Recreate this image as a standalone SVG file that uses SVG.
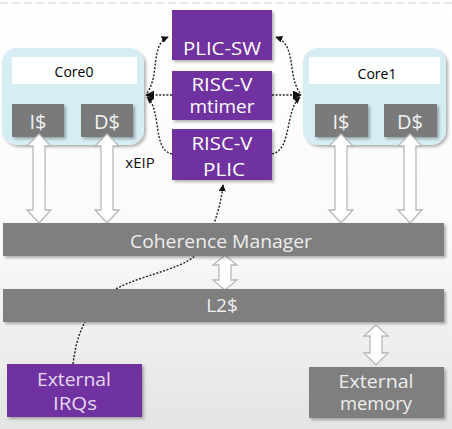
<svg xmlns="http://www.w3.org/2000/svg" width="452" height="429" viewBox="0 0 452 429">
<defs>
<linearGradient id="bg" x1="0" y1="0" x2="0" y2="1">
<stop offset="0" stop-color="#ffffff"/>
<stop offset="0.55" stop-color="#fafafa"/>
<stop offset="1" stop-color="#e4e4e4"/>
</linearGradient>
<filter id="sh" x="-10%" y="-10%" width="130%" height="140%">
<feDropShadow dx="2" dy="2" stdDeviation="1.5" flood-color="#000" flood-opacity="0.3"/>
</filter>
<marker id="ah" viewBox="0 0 10 10" refX="9" refY="5" markerWidth="7" markerHeight="7" orient="auto-start-reverse" markerUnits="userSpaceOnUse">
<path d="M0,0 L10,5 L0,10 z" fill="#111"/>
</marker>
<marker id="ahb" viewBox="0 0 10 10" refX="9" refY="5" markerWidth="9" markerHeight="9" orient="auto" markerUnits="userSpaceOnUse">
<path d="M0,0 L10,5 L0,10 z" fill="#111"/>
</marker>
</defs>
<style>
.core{fill:#d6edf4;}
.lbl{fill:#ffffff;}
.cache{fill:#7a7a7a;}
.bar{fill:#7f7f7f;}
.pur{fill:#7030a0;}
.t{font-family:"Open Sans","Noto Sans","DejaVu Sans",sans-serif;text-anchor:middle;}
.tw{fill:#f2f2f2;font-size:20px;}
.tp{fill:#ffffff;font-size:19px;}
.tk{fill:#000;font-size:14px;}
.tb{fill:#eeeeee;font-size:19px;}
.dot{fill:none;stroke:#222;stroke-width:1.4;stroke-dasharray:2 1.6;}
.harr{fill:#ffffff;stroke:#b8b8b8;stroke-width:1.3;}
</style>
<rect x="0" y="0" width="452" height="429" fill="url(#bg)"/>
<line x1="0" y1="3" x2="452" y2="3" stroke="#d0d0d0" stroke-width="1" stroke-dasharray="8 4"/>

<g id="connectors">
<path class="dot" d="M73,364 C76,340 82,318 105,296 C130,276 178,272 196,255 C210,240 220,212 223,185" marker-end="url(#ah)"/>
<path class="dot" d="M147,93 C160,75 150,45 168,37" marker-end="url(#ah)"/>
<path class="dot" d="M172,95 L146,95" marker-end="url(#ahb)"/>
<path class="dot" d="M172,154 C152,150 162,110 147,97" marker-end="url(#ah)"/>
<path class="dot" d="M300,93 C287,75 297,45 276,37" marker-end="url(#ah)"/>
<path class="dot" d="M272,95 L301,95" marker-end="url(#ahb)"/>
<path class="dot" d="M272,154 C292,150 285,110 300,97" marker-end="url(#ah)"/>
</g>

<g id="core0">
<rect class="core" x="2" y="48" width="142" height="97" rx="15" filter="url(#sh)"/>
<rect class="lbl" x="12" y="57" width="125" height="27"/>
<text class="t tk" x="74" y="77">Core0</text>
</g>
<g id="core0-i">
<rect class="cache" x="12" y="104" width="52" height="33" filter="url(#sh)"/>
<text class="t tw" x="38" y="129">I$</text>
</g>
<g id="core0-d">
<rect class="cache" x="81" y="104" width="52" height="33" filter="url(#sh)"/>
<text class="t tw" x="107" y="129">D$</text>
</g>

<g id="core1">
<rect class="core" x="303" y="48" width="143" height="97" rx="15" filter="url(#sh)"/>
<rect class="lbl" x="309" y="57" width="131" height="27"/>
<text class="t tk" x="377" y="79">Core1</text>
</g>
<g id="core1-i">
<rect class="cache" x="315" y="104" width="53" height="33" filter="url(#sh)"/>
<text class="t tw" x="341" y="129">I$</text>
</g>
<g id="core1-d">
<rect class="cache" x="384" y="104" width="53" height="33" filter="url(#sh)"/>
<text class="t tw" x="410" y="129">D$</text>
</g>

<g id="bus-arrows">
<path class="harr" d="M39,134 L51,146 L45,146 L45,210 L51,210 L39,223 L27,210 L33,210 L33,146 L27,146 Z"/>
<path class="harr" d="M107,134 L119,146 L113,146 L113,210 L119,210 L107,223 L95,210 L101,210 L101,146 L95,146 Z"/>
<path class="harr" d="M341,134 L353,146 L347,146 L347,210 L353,210 L341,223 L329,210 L335,210 L335,146 L329,146 Z"/>
<path class="harr" d="M410,134 L422,146 L416,146 L416,210 L422,210 L410,223 L398,210 L404,210 L404,146 L398,146 Z"/>
<path class="harr" d="M225,255 L237,265 L231,265 L231,280 L237,280 L225,290 L213,280 L219,280 L219,265 L213,265 Z"/>
<path class="harr" d="M376,325 L388,336 L382,336 L382,353 L388,353 L376,365 L364,353 L370,353 L370,336 L364,336 Z"/>
</g>

<g id="plic-sw">
<rect class="pur" x="172" y="10" width="100" height="50" filter="url(#sh)"/>
<text class="t tp" x="222" y="55" textLength="78" lengthAdjust="spacingAndGlyphs">PLIC-SW</text>
</g>
<g id="mtimer">
<rect class="pur" x="172" y="71" width="100" height="49" filter="url(#sh)"/>
<text class="t tp" x="222" y="91" textLength="61" lengthAdjust="spacingAndGlyphs">RISC-V</text>
<text class="t tp" x="222" y="113" textLength="65" lengthAdjust="spacingAndGlyphs">mtimer</text>
</g>
<g id="plic">
<rect class="pur" x="172" y="129" width="100" height="51" filter="url(#sh)"/>
<text class="t tp" x="222" y="150" textLength="61" lengthAdjust="spacingAndGlyphs">RISC-V</text>
<text class="t tp" x="224" y="176" textLength="42" lengthAdjust="spacingAndGlyphs">PLIC</text>
</g>

<text class="t" x="140" y="168" font-size="15" fill="#111">xEIP</text>

<g id="coherence">
<rect class="bar" x="3" y="223" width="441" height="33" filter="url(#sh)"/>
<text class="t tb" x="221" y="248" textLength="182" lengthAdjust="spacingAndGlyphs">Coherence Manager</text>
</g>
<g id="l2">
<rect class="bar" x="3" y="289" width="441" height="33" filter="url(#sh)"/>
<text class="t tb" x="222" y="312">L2$</text>
</g>

<g id="ext-irq">
<rect class="pur" x="7" y="364" width="135" height="53" filter="url(#sh)"/>
<text class="t" x="74" y="386" font-size="19" fill="#e6d8f2" textLength="74" lengthAdjust="spacingAndGlyphs">External</text>
<text class="t" x="75" y="410" font-size="19" fill="#e6d8f2" textLength="44" lengthAdjust="spacingAndGlyphs">IRQs</text>
</g>
<g id="ext-mem">
<rect class="bar" x="309" y="367" width="135" height="51" filter="url(#sh)"/>
<text class="t" x="376" y="388" font-size="19" fill="#eeeeee" textLength="75" lengthAdjust="spacingAndGlyphs">External</text>
<text class="t" x="376" y="410" font-size="19" fill="#eeeeee" textLength="72" lengthAdjust="spacingAndGlyphs">memory</text>
</g>
</svg>
